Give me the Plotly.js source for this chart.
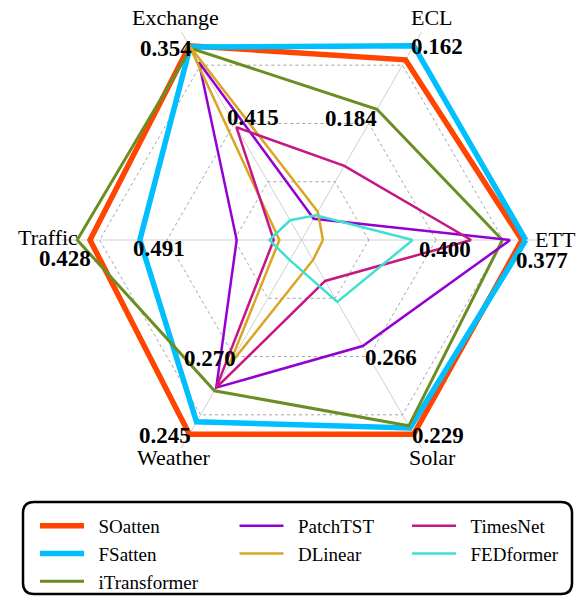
<!DOCTYPE html>
<html>
<head>
<meta charset="utf-8">
<script src="https://cdn.plot.ly/plotly-3.0.1.min.js"></script>
<style>
  html, body { margin: 0; padding: 0; background: #ffffff; }
  #chart { width: 584px; height: 596px; }
</style>
</head>
<body>
<div id="chart"></div>
<script>
// Datasets, counter-clockwise from 3 o'clock
const datasets = ['ETT', 'ECL', 'Exchange', 'Traffic', 'Weather', 'Solar'];

// Per-dataset MSE ticks: outer tip of each spoke and the middle ring
const outerTicks = [0.377, 0.162, 0.354, 0.428, 0.245, 0.229];
const innerTicks = [0.400, 0.184, 0.415, 0.491, 0.270, 0.266];

// MSE of each model, in the order of `datasets`
const SOatten      = [0.378, 0.166, 0.354, 0.437, 0.245, 0.229];
const FSatten      = [0.377, 0.162, 0.355, 0.472, 0.249, 0.232];
const iTransformer = [0.383, 0.180, 0.356, 0.428, 0.259, 0.233];
const PatchTST     = [0.381, 0.211, 0.367, 0.540, 0.260, 0.271];
const DLinear      = [0.429, 0.209, 0.354, 0.570, 0.267, 0.312];
const TimesNet     = [0.391, 0.196, 0.418, 0.566, 0.260, 0.302];
const FEDformer    = [0.406, 0.210, 0.491, 0.563, 0.301, 0.292];

const modelNames = ['SOatten', 'FSatten', 'iTransformer', 'PatchTST', 'DLinear', 'TimesNet', 'FEDformer'];
const modelValues = [SOatten, FSatten, iTransformer, PatchTST, DLinear, TimesNet, FEDformer];
const modelColors = ['#FF4500', '#00BFFF', '#6B8E23', '#9400D3', '#DAA520', '#C71585', '#40E0D0'];
const modelWidths = [5.5, 5.5, 3, 2.5, 2.5, 2.5, 2.5];
const modelLegend = ['legend', 'legend', 'legend', 'legend2', 'legend2', 'legend3', 'legend3'];

// Each spoke has its own MSE scale: lower error lies further out.
const R_OUTER = 1.0, R_INNER = 0.6, R_MAX = 1.07;
function toRadius(v, i) {
  return R_OUTER - (v - outerTicks[i]) / (innerTicks[i] - outerTicks[i]) * (R_OUTER - R_INNER);
}

const W = 584, H = 596;
const px = x => x / W;
const py = y => 1 - y / H;

// Polar area: centre and outer radius in pixels
const CX = 301.5, CY = 240, RPX = 240;

// Pixel position of radius r on spoke i (spokes every 60 degrees)
function spokePoint(i, r) {
  const a = i * Math.PI / 3;
  const d = r / R_MAX * RPX;
  return { x: CX + d * Math.cos(a), y: CY - d * Math.sin(a) };
}

const SERIF = 'Liberation Serif, Times New Roman, serif';
const NBSP = '\u00a0\u00a0';
const traces = [];

modelNames.forEach((name, k) => {
  const r = modelValues[k].map(toRadius);
  traces.push({
    type: 'scatterpolar',
    mode: 'lines',
    name: NBSP + name,
    r: r.concat([r[0]]),
    theta: datasets.concat([datasets[0]]),
    line: { color: modelColors[k], width: modelWidths[k] },
    legend: modelLegend[k],
    hoverinfo: 'skip'
  });
});

// Text offsets (px, right / down) from the spoke point each label belongs to
const nameShift  = [[13.5, 0], [10.5, -14.5], [-6.5, -14.5], [-13.5, -2], [-7.5, 9.5], [10.5, 9.5]];
const outerShift = [[16, 20], [23.5, 0.5], [-23.5, 2.5], [-12, 18], [-24.5, 1], [24.5, 1]];
const innerShift = [[8.5, 9.5], [-18, -4.5], [19, -5.5], [-8, 9], [-24, 1.5], [22, 0.5]];

function label(text, p, shift, font) {
  return {
    xref: 'paper', yref: 'paper', x: px(p.x), y: py(p.y),
    xanchor: 'center', yanchor: 'middle', xshift: shift[0], yshift: -shift[1],
    text: text, showarrow: false, font: font
  };
}

const nameFont  = { family: SERIF, size: 22, color: '#000000' };
const valueFont = { family: SERIF, size: 23, color: '#000000', weight: 'bold' };
const annotations = [];
datasets.forEach((d, i) => {
  annotations.push(label(d, spokePoint(i, R_MAX), nameShift[i], nameFont));
  annotations.push(label(outerTicks[i].toFixed(3), spokePoint(i, R_OUTER), outerShift[i], valueFont));
  annotations.push(label(innerTicks[i].toFixed(3), spokePoint(i, R_INNER), innerShift[i], valueFont));
});

// Rounded frame around the legend columns
function roundedRect(x0, y0, x1, y1, rad) {
  const rx = rad / W, ry = rad / H;
  const X0 = px(x0), X1 = px(x1), Y0 = py(y0), Y1 = py(y1);
  return `M${X0 + rx},${Y0} L${X1 - rx},${Y0} Q${X1},${Y0} ${X1},${Y0 - ry} ` +
         `L${X1},${Y1 + ry} Q${X1},${Y1} ${X1 - rx},${Y1} L${X0 + rx},${Y1} ` +
         `Q${X0},${Y1} ${X0},${Y1 + ry} L${X0},${Y0 - ry} Q${X0},${Y0} ${X0 + rx},${Y0} Z`;
}

const legendStyle = (x) => ({
  x: px(x), y: py(507), xanchor: 'left', yanchor: 'top',
  bgcolor: 'rgba(0,0,0,0)', borderwidth: 0,
  font: { family: SERIF, size: 19, color: '#000000' },
  itemwidth: 44, traceorder: 'normal'
});

const layout = {
  width: W, height: H,
  margin: { l: 0, r: 0, t: 0, b: 0, autoexpand: false },
  paper_bgcolor: '#ffffff',
  showlegend: true,
  polar: {
    domain: { x: [px(CX - RPX), px(CX + RPX)], y: [py(CY + RPX), py(CY - RPX)] },
    gridshape: 'linear',
    bgcolor: 'rgba(0,0,0,0)',
    radialaxis: {
      range: [0, R_MAX], tickvals: [0.3, 0.6, 0.9], showticklabels: false, ticks: '',
      showline: false, gridcolor: '#8c8c8c', gridwidth: 0.8, griddash: 'dot'
    },
    angularaxis: {
      type: 'category', categoryorder: 'array', categoryarray: datasets,
      direction: 'counterclockwise', rotation: 0,
      showticklabels: false, ticks: '', showline: false,
      gridcolor: '#c4c4c4', gridwidth: 0.8
    }
  },
  legend: legendStyle(35),
  legend2: legendStyle(234.5),
  legend3: legendStyle(407),
  annotations: annotations,
  shapes: [{
    type: 'path', xref: 'paper', yref: 'paper',
    path: roundedRect(23, 502, 572, 594, 11),
    line: { color: '#000000', width: 2.5 }, fillcolor: 'rgba(0,0,0,0)'
  }]
};

Plotly.newPlot('chart', traces, layout, { displayModeBar: false, staticPlot: true });
</script>
</body>
</html>
